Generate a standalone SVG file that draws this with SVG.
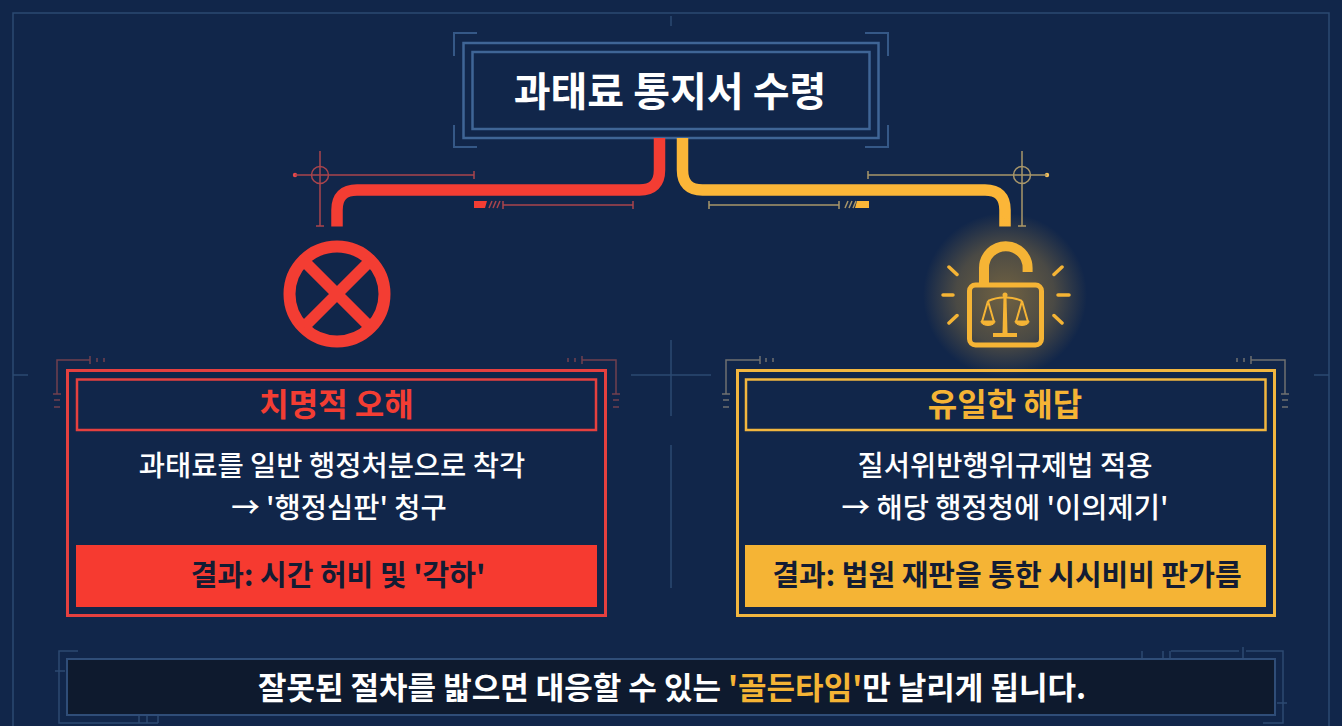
<svg xmlns="http://www.w3.org/2000/svg" width="1342" height="726" viewBox="0 0 1342 726">
<style>
text{font-family:"Noto Sans CJK KR","Noto Sans",sans-serif;text-anchor:middle}
.t{font-size:40px;font-weight:700;fill:#fff}
.h{font-size:32px;font-weight:700}
.b{font-size:28.5px;font-weight:500;fill:#fff}
.r{font-size:29px;font-weight:700;fill:#131c33}
.s{font-size:31px;font-weight:700;fill:#fff}
.grid{fill:none;stroke:#2b4a72;stroke-width:1.5}
.blue{fill:none;stroke:#3f6596;stroke-width:2}
.deco{fill:none;stroke:#2c4a72;stroke-width:1.5}
.redthin{fill:none;stroke:#a9444c;stroke-width:1.5}
.yelthin{fill:none;stroke:#a8966a;stroke-width:1.5}
.redm{fill:none;stroke:#71404f;stroke-width:1.5}
.yelm{fill:none;stroke:#6f7070;stroke-width:1.5}
.pipe{fill:none;stroke-width:11.5}
.lk{fill:none;stroke:#f5b435}
</style>
<defs>
<radialGradient id="glow" cx="0.5" cy="0.5" r="0.5">
<stop offset="0" stop-color="#f5b435" stop-opacity=".42"/>
<stop offset=".6" stop-color="#f5b435" stop-opacity=".25"/>
<stop offset="1" stop-color="#f5b435" stop-opacity="0"/>
</radialGradient>
</defs>
<rect width="1342" height="726" fill="#11264a"/>
<g id="background-grid">
<path class="grid" d="M13 726V13H1329V726"/>
<path class="grid" d="M13 375H28M1314 375H1329M631 375H711M671 340V416M671 445V588M671 16V26"/>
</g>

<g id="node-notice">
<path class="blue" d="M477 33H454V56M865 33H888V56M454 125V147H477M888 125V147H865" stroke-opacity=".8"/>
<rect x="463.500" y="43" width="415" height="95" fill="#11264a" stroke="#3f6596" stroke-width="2.500"/>
<rect x="472.500" y="52" width="397" height="77" fill="none" stroke="#3f6596" stroke-width="2.500"/>
<text class="t" x="670" y="106">과태료 통지서 수령</text>
</g>

<g id="connectors">
<path class="pipe" stroke="#f33d33" d="M659.500 138V170Q659.500 190 639.500 190H357Q337 190 337 210V226.500"/>
<path class="pipe" stroke="#fbb638" d="M682.500 138V170Q682.500 190 702.500 190H985Q1005 190 1005 210V226.500"/>
</g>

<g id="annotation-left">
<circle cx="295" cy="175" r="2.200" fill="#e8474a"/>
<circle class="redthin" cx="320" cy="175" r="8.500"/>
<path class="redthin" d="M295 175H474M474 171V179M320 151V226M316 226H324"/>
<path d="M474 201H487L485 208H474Z" fill="#f33d33"/>
<path class="redthin" d="M489 208L492 201M493 208L496 201M497 208L500 201"/>
<path class="redthin" d="M503 205H633M503 201V209M633 201V209"/>
</g>
<g id="annotation-right">
<circle cx="1047" cy="175" r="2.200" fill="#f5c05a"/>
<circle class="yelthin" cx="1022" cy="175" r="8.500"/>
<path class="yelthin" d="M868 175H1047M868 171V179M1022 151V226M1018 226H1026"/>
<path d="M857 201H869V208H855Z" fill="#fbb638"/>
<path class="yelthin" d="M845 208L848 201M849 208L852 201M853 208L856 201"/>
<path class="yelthin" d="M709 205H839M709 201V209M839 201V209"/>
</g>

<g id="node-icon-x">
<circle cx="337" cy="294" r="47.500" fill="none" stroke="#f33d33" stroke-width="12"/>
<path d="M304 261L370 327M370 261L304 327" stroke="#f33d33" stroke-width="11.500"/>
</g>

<g id="node-icon-lock">
<circle cx="1005" cy="295" r="82" fill="url(#glow)"/>
<path class="lk" stroke-width="10" d="M984 284V268A21.800 21.800 0 0 1 1027.600 268V272"/>
<rect class="lk" x="969.500" y="285" width="72" height="60" rx="6" stroke-width="5"/>
<path class="lk" stroke-width="3.500" stroke-linecap="round" d="M943 295H953M1058 295H1069M949 267L957 274.500M1062 267L1054 274.500M949 323L957 315.500M1062 323L1054 315.500"/>
<g id="scales">
<circle cx="1005" cy="295" r="2.500" fill="#f5b435"/>
<path class="lk" stroke-width="2" d="M988 301Q997 297 1005 297.500Q1013 297 1022 301M988 301L982 322M988 301L994 322M1022 301L1016 322M1022 301L1028 322"/>
<path d="M1003.500 297H1006.500L1007.500 333H1002.500Z" fill="#f5b435"/>
<path d="M993 333H1017V337H993Z" fill="#f5b435"/>
<path d="M981 321H995Q995 325 988 325.500Q981 325 981 321ZM1015 321H1029Q1029 325 1022 325.500Q1015 325 1015 321Z" fill="#f5b435" stroke="#f5b435"/>
</g>
</g>

<g id="node-left-panel">
<path class="redm" d="M90 360H57V394M90 356V364M97 358V362M104 358V362M53 394H61M54 400H60M54 407H60" transform="translate(0,0)"/>
<path class="redm" d="M582 360H616V394M582 356V364M575 358V362M568 358V362M612 394H620M613 400H619M613 407H619"/>
<rect x="67.500" y="370.500" width="538" height="245" fill="none" stroke="#e6403f" stroke-width="3"/>
<rect x="77" y="379.500" width="519" height="50.500" fill="none" stroke="#e6403f" stroke-width="2.500"/>
<text class="h" x="336.500" y="416" fill="#f33d33">치명적 오해</text>
<text class="b" x="332" y="476">과태료를 일반 행정처분으로 착각</text>
<text class="b" x="339" y="518">→ '행정심판' 청구</text>
<rect x="76" y="545" width="521" height="62" fill="#f63a30"/>
<text class="r" x="338" y="586">결과: 시간 허비 및 '각하'</text>
</g>

<g id="node-right-panel">
<path class="yelm" d="M760 360H726V394M760 356V364M766 358V362M773 358V362M722 394H730M723 400H729M723 407H729"/>
<path class="yelm" d="M1251 360H1285V394M1251 356V364M1244 358V362M1237 358V362M1281 394H1289M1282 400H1288M1282 407H1288"/>
<rect x="737.500" y="370.500" width="537" height="245" fill="none" stroke="#f2b63f" stroke-width="3"/>
<rect x="746" y="379.500" width="519.500" height="50.500" fill="none" stroke="#f2b63f" stroke-width="2.500"/>
<text class="h" x="1005" y="416" fill="#f5b435">유일한 해답</text>
<text class="b" x="1005" y="476">질서위반행위규제법 적용</text>
<text class="b" x="1005" y="518">→ 해당 행정청에 '이의제기'</text>
<rect x="745" y="545" width="521" height="62" fill="#f5b435"/>
<text class="r" x="1007" y="586">결과: 법원 재판을 통한 시시비비 판가름</text>
</g>

<g id="node-summary">
<path class="deco" d="M78 651H59V723H138M55 671H65M59 671V676M139 723V710"/>
<path class="deco" d="M1171 651H1239M1246 651H1283V723H1263M1277 703H1287M1243 647V659M1170 651V659M1163 651V659M1142 651V659"/>
<path class="deco" d="M138 723H158M147 723V712M158 723V712"/>
<rect x="67" y="659" width="1208" height="56" fill="#0e1a2e" stroke="#2f4d78" stroke-width="2"/>
<text class="s" x="672" y="699">잘못된 절차를 밟으면 대응할 수 있는 <tspan fill="#f5b435">'골든타임'</tspan>만 날리게 됩니다.</text>
</g>
</svg>
